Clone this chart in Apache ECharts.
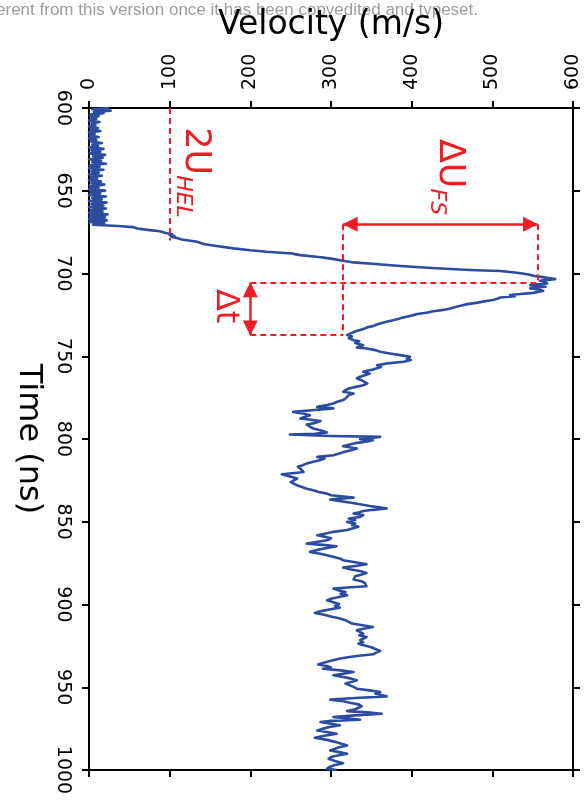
<!DOCTYPE html>
<html><head><meta charset="utf-8">
<script src="https://cdn.jsdelivr.net/npm/echarts@6/dist/echarts.min.js"></script>
<style>html,body{margin:0;padding:0;background:#fff}#c{width:588px;height:807px}</style>
</head><body><div id="c"></div><script>
// ---- data: [time (ns), velocity (m/s)] ----
const preShock = [[600,25],[600.8,4],[601.6,27],[602.4,6],[603.2,18],[604,1],[604.9,12],[605.8,2],[606.7,9],[607.6,0],[608.5,13],[609.4,3],[610.3,8],[611.2,0],[612.1,11],[613,2],[613.9,14],[614.8,0],[615.7,7],[616.6,1],[617.5,12],[618.4,0],[619.3,9],[620.2,2],[621.1,16],[622,4],[622.9,11],[623.8,0],[624.7,18],[625.6,3],[626.5,14],[627.4,1],[628.3,20],[629.2,5],[630.1,17],[631,0],[631.9,15],[632.8,4],[633.7,21],[634.6,1],[635.5,13],[636.4,0],[637.3,18],[638.2,3],[639.1,12],[640,0],[640.9,16],[641.8,2],[642.7,10],[643.6,0],[644.5,15],[645.4,3],[646.3,19],[647.2,1],[648.1,12],[649,0],[649.9,20],[650.8,2],[651.7,14],[652.6,0],[653.5,21],[654.4,4],[655.3,16],[656.2,0],[657.1,22],[658,3],[658.9,18],[659.8,0],[660.7,21],[661.6,2],[662.5,17],[663.4,0],[664.3,23],[665.2,1],[666.1,20],[667,0],[667.9,22],[668.8,1],[669.7,19]];
const shockRise = [[670.5,5],[671.3,36],[672,55],[672.8,60],[673.8,75],[674.5,88],[675.5,95],[676.3,103],[676.8,100],[677.3,106],[677.8,102],[678.6,109],[679.5,115],[680.8,134],[681.5,136],[682.2,142],[683.2,156],[684.8,179],[686,200],[686.9,220],[687.9,252],[688.3,255],[688.9,262],[690,285],[691,300],[692.3,315],[693.3,328],[694.3,355],[695.5,386],[696.5,420],[697.3,448],[698,480],[698.5,510],[699.2,525],[699.9,535],[700.6,545],[701.4,551],[702.2,562],[702.8,570],[703.4,578],[704,565],[704.4,559],[705.2,565],[706,568],[706.5,555],[707,547],[707.5,560],[708,566],[708.5,552],[709,547],[709.7,558],[710.5,563],[711.1,556],[711.7,551]];
const release = [[712.4,535],[713,522],[713.7,528],[714.5,510],[715.2,506],[716,501],[717,488],[717.6,482],[718.5,469],[719.3,462],[720.5,452],[721.2,448],[722,439],[723,425],[723.6,420],[724.5,407],[725.3,401],[726,395],[726.5,390],[727.5,383],[728.2,377],[729,370],[730,362],[731,356],[731.8,352],[732.5,345],[733.2,342],[734.2,336],[735,330],[736,325],[737.2,320],[738,326],[739,322],[740.3,328],[741,335],[742,330],[743.3,340],[744,336],[744.7,332],[745.3,344],[746.3,355],[747.3,361],[748.3,373],[749.3,386],[750.3,398],[750.7,398],[751.5,394],[752.3,399],[753.3,390],[754.3,370],[755.4,357],[756.5,362],[757.2,360],[758,352],[758.8,345],[759.4,340],[760.5,348],[761.5,342],[762.5,335],[763.4,332],[764.5,338],[765.5,336],[766.5,345],[767.5,340],[768.5,331],[769.5,322],[770.5,318],[771.5,315],[772.5,328],[773.5,322],[774.5,320],[775.5,318],[776.5,315],[777.5,308],[778.5,303],[779.5,295],[780.6,283],[781.5,303],[782.5,280],[783.6,253],[784.5,265],[785.6,274],[786.5,268],[787.6,262],[788.4,275],[789.2,287],[790.3,280],[791.3,270],[792.3,270],[793.7,278],[794.8,288],[796,295],[796.8,280],[797.3,249],[798.2,300],[798.7,361],[799.4,350],[800.1,336],[800.7,352]];
const tailEarly = [[801.5,345],[802.5,330],[803.5,322],[804.4,315],[805.7,332],[806.8,325],[807.8,316],[808.8,310],[809.8,303],[810.8,283],[811.8,292],[812.8,286],[813.8,278],[814.8,270],[815.8,265],[816.8,259],[818,262],[819.9,266],[820.5,255],[821.3,239],[822.5,248],[823.9,258],[825,256],[826,250],[826.9,251],[828,258],[829,264],[830,270],[831,278],[832,285],[833,295],[834,300],[835.4,328],[836.6,299],[837.5,310],[838.5,325],[839.4,336],[840.5,348],[841.3,360],[842,369],[842.8,352],[843.5,340],[844.2,335],[845,328],[846,340],[847.1,336],[848,322],[849,330],[850.1,320],[851,330],[852,326],[853,334],[854.1,336],[855,320],[856.1,303],[857,295],[858.1,283],[859,292],[860,300],[861.2,295],[862.2,282],[863.2,270],[864,290],[864.8,307],[865.8,295],[867,283],[868.2,274],[869.2,285],[870.2,295],[871.5,305],[872.3,312],[873.3,315],[874.5,330],[875.7,344],[876.7,330],[877.7,315],[878.8,325],[879.8,336],[880.9,344],[882,337],[883,330],[884.9,328],[886,338],[887,342],[888,340],[889,344],[889.7,320],[890.4,303],[891.5,310],[892.5,318],[893.5,312],[894.4,320],[895.5,310],[896.5,300],[897.5,295],[898.6,303],[899.7,310]];
const tailLate = [[900.8,305],[901.9,311],[903,298],[904,288],[905.1,280],[906,290],[907.2,300],[908.5,311],[909.5,318],[910.5,322],[911.5,326],[912.6,328],[913.6,352],[914.6,340],[915.6,332],[916.6,332],[917.6,340],[918.6,335],[919.7,344],[920.6,344],[921.6,336],[922.7,340],[923.7,334],[924.8,342],[925.8,350],[926.9,355],[928.1,361],[929.1,356],[930.1,352],[931,335],[931.7,323],[932.8,310],[934,300],[935,292],[936.2,284],[937.2,295],[938,300],[938.8,290],[939.8,312],[940.8,328],[941.8,315],[942.8,303],[943.8,315],[944.8,325],[945.8,332],[946.8,325],[947.8,318],[948.8,320],[949.8,328],[950.9,332],[951.9,348],[952.9,361],[953.9,355],[954.7,362],[955.5,369],[956.5,330],[957.5,299],[958.5,315],[959.5,325],[960.5,335],[961.5,338],[962.3,340],[963.3,330],[964.4,320],[965.2,345],[966,363],[967,330],[968,303],[968.8,320],[969.6,336],[970.3,300],[971,287],[972,300],[973,311],[974,298],[975,290],[976.1,283],[977,295],[978.1,307],[979.3,292],[980.5,280],[981.8,295],[983,305],[984,312],[985.2,320],[986.2,310],[987.2,305],[988.2,299],[989.2,310],[990.2,320],[991.2,308],[992.2,300],[993.2,297],[994.5,305],[995.9,315],[997,305],[998.2,298],[999.3,295],[1000,307]];

// ---- annotation values ----
const helVelocity = 100, helTime = 680;
const fsLow = 315, fsHigh = 556, fsArrowTime = 670.3;
const peakTime = 705.6, releaseTime = 737.2, dtVelocity = 200;
const helLabelAt = [128, 639], fsLabelAt = [443, 641.7], dtLabelAt = [169, 719.7];

const RED = '#ee1c25', BLUE = '#2b4c9f', FONT = 'DejaVu Sans';
const trace = [].concat(preShock, shockRise, release, tailEarly, tailLate).map(p => [p[1], p[0]]);

const chart = echarts.init(document.getElementById('c'), null, {renderer: 'canvas'});
const axisLine = {show: true, onZero: false, lineStyle: {color: '#000', width: 2}};
const axisTick = {show: true, inside: false, length: 7, lineStyle: {color: '#000', width: 2}};
const dashed = {color: RED, width: 2, type: [6, 4]};
const arrowEnd = (v, t) => ({coord: [v, t], symbol: 'triangle', symbolSize: [15, 15], symbolOffset: [0, 7]});
const plain = v => String(v);

chart.setOption({
  animation: false,
  backgroundColor: '#fff',
  grid: {left: 89, top: 108, right: 15, bottom: 37, containLabel: false, outerBoundsMode: 'none'},
  xAxis: [
    {type: 'value', position: 'top', min: 0, max: 600, interval: 100,
     name: 'Velocity (m/s)', nameLocation: 'middle', nameGap: 66,
     nameTextStyle: {fontSize: 33, color: '#000', fontFamily: FONT},
     axisLine, axisTick, splitLine: {show: false},
     axisLabel: {rotate: -90, margin: 18, fontSize: 19, color: '#000', fontFamily: FONT, formatter: plain}},
    {type: 'value', position: 'bottom', min: 0, max: 600, interval: 100,
     axisLine, axisTick, splitLine: {show: false}, axisLabel: {show: false}}
  ],
  yAxis: [
    {type: 'value', position: 'left', inverse: true, min: 600, max: 1000, interval: 50,
     name: 'Time (ns)', nameLocation: 'middle', nameGap: 45, nameRotate: -90,
     nameTextStyle: {fontSize: 32, color: '#000', fontFamily: FONT},
     axisLine, axisTick, splitLine: {show: false},
     axisLabel: {rotate: -90, margin: 17, fontSize: 19, color: '#000', fontFamily: FONT, formatter: plain}},
    {type: 'value', position: 'right', inverse: true, min: 600, max: 1000, interval: 50,
     axisLine, axisTick, splitLine: {show: false}, axisLabel: {show: false}}
  ],
  series: [{
    type: 'line', xAxisIndex: 0, yAxisIndex: 0, data: trace,
    showSymbol: false, symbol: 'none', clip: true,
    lineStyle: {color: BLUE, width: 2.6, join: 'round'}, z: 2,
    markLine: {
      silent: true, animation: false, symbol: ['none', 'none'], label: {show: false},
      lineStyle: dashed, z: 5,
      data: [
        [{coord: [helVelocity, 600]}, {coord: [helVelocity, helTime]}],
        [{coord: [fsLow, fsArrowTime]}, {coord: [fsLow, releaseTime]}],
        [{coord: [fsHigh, fsArrowTime]}, {coord: [fsHigh, peakTime]}],
        [{coord: [dtVelocity, peakTime]}, {coord: [fsHigh, peakTime]}],
        [{coord: [dtVelocity, releaseTime]}, {coord: [fsLow, releaseTime]}],
        [Object.assign(arrowEnd(fsLow, fsArrowTime), {lineStyle: {color: RED, width: 2.5, type: 'solid'}}), arrowEnd(fsHigh, fsArrowTime)],
        [Object.assign(arrowEnd(dtVelocity, peakTime), {lineStyle: {color: RED, width: 2.5, type: 'solid'}}), arrowEnd(dtVelocity, releaseTime)]
      ]
    }
  }]
});

const px = p => chart.convertToPixel({seriesIndex: 0}, p);
const rotText = (p, rich, text) => {
  const q = px(p);
  return {type: 'text', x: q[0], y: q[1], rotation: -Math.PI / 2, z: 20,
    style: {text, rich, align: 'center', verticalAlign: 'middle', fill: RED}};
};
const bigSub = (big) => ({
  a: {fontSize: big, fontFamily: FONT, fill: RED, padding: [0, 0, 6, 0]},
  b: {fontSize: 22, fontFamily: FONT, fontStyle: 'italic', fill: RED, verticalAlign: 'bottom'}
});
chart.setOption({
  graphic: [
    {type: 'text', right: 110, top: 2, z: 0,
     style: {text: 'erent from this version once it has been copyedited and typeset.',
             font: '17px "Liberation Sans Narrow", "Liberation Sans", sans-serif', fill: '#9c9c9c'}},
    rotText(helLabelAt, bigSub(35), '{a|2U}{b|HEL}'),
    rotText(fsLabelAt, bigSub(35), '{a|ΔU}{b|FS}'),
    rotText(dtLabelAt, {a: {fontSize: 32, fontFamily: FONT, fill: RED}}, '{a|Δt}')
  ]
});
</script></body></html>
